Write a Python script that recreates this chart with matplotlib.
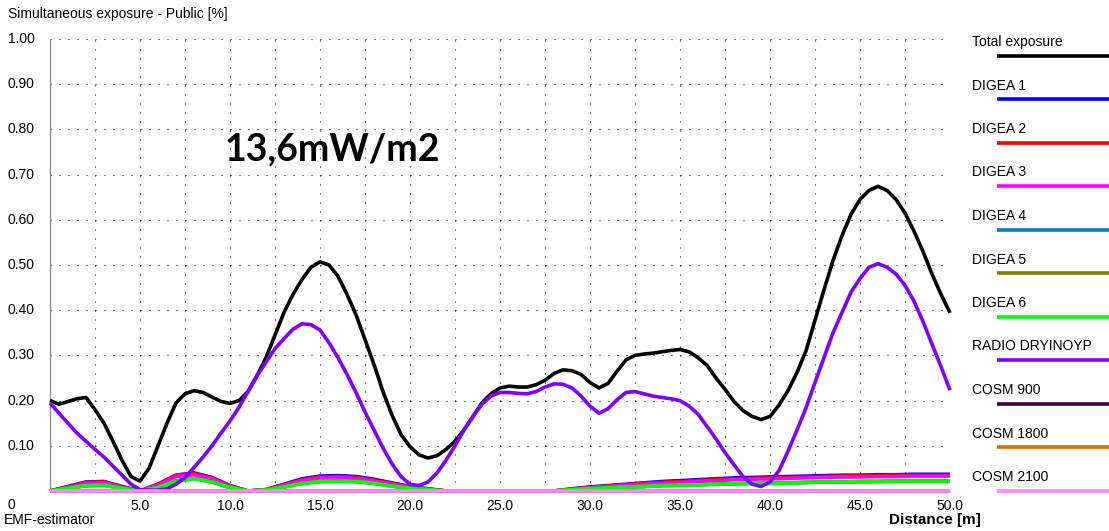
import numpy as np
import matplotlib
matplotlib.use("Agg")
import matplotlib.pyplot as plt

plt.rcParams['font.family'] = ['Liberation Sans', 'DejaVu Sans']

# distance [m] for the two main curves (0.5 m step) and for the small ones (1 m step)
dist_fine = np.arange(0, 50.01, 0.5)
dist_coarse = np.arange(0, 51, 1.0)

total_exposure = [
    0.200, 0.192, 0.198, 0.204, 0.207, 0.180, 0.150, 0.110, 0.068, 0.032,
    0.022, 0.050, 0.100, 0.150, 0.195, 0.215, 0.222, 0.218, 0.208, 0.198,
    0.194, 0.200, 0.220, 0.255, 0.295, 0.345, 0.395, 0.435, 0.468, 0.495,
    0.507, 0.500, 0.475, 0.435, 0.390, 0.335, 0.280, 0.220, 0.168, 0.125,
    0.098, 0.080, 0.073, 0.078, 0.092, 0.110, 0.135, 0.165, 0.195, 0.215,
    0.228, 0.232, 0.230, 0.230, 0.235, 0.245, 0.260, 0.268, 0.266, 0.258,
    0.240, 0.228, 0.238, 0.265, 0.290, 0.300, 0.303, 0.305, 0.308, 0.311,
    0.313, 0.308, 0.295, 0.278, 0.250, 0.225, 0.198, 0.178, 0.165, 0.158,
    0.165, 0.190, 0.222, 0.262, 0.310, 0.378, 0.445, 0.510, 0.565, 0.612,
    0.645, 0.665, 0.674, 0.665, 0.645, 0.615, 0.575, 0.530, 0.480, 0.435,
    0.394,
]

radio_dryinoyp = [
    0.195, 0.172, 0.150, 0.128, 0.110, 0.092, 0.075, 0.055, 0.035, 0.015,
    0.003, 0.002, 0.002, 0.005, 0.015, 0.030, 0.052, 0.075, 0.100, 0.128,
    0.155, 0.185, 0.220, 0.255, 0.285, 0.315, 0.337, 0.358, 0.370, 0.368,
    0.356, 0.328, 0.295, 0.258, 0.218, 0.175, 0.135, 0.095, 0.060, 0.032,
    0.015, 0.012, 0.020, 0.040, 0.068, 0.100, 0.135, 0.165, 0.192, 0.210,
    0.218, 0.218, 0.216, 0.215, 0.220, 0.230, 0.237, 0.236, 0.228, 0.210,
    0.188, 0.172, 0.182, 0.202, 0.218, 0.220, 0.215, 0.210, 0.207, 0.204,
    0.200, 0.188, 0.170, 0.143, 0.115, 0.085, 0.058, 0.032, 0.015, 0.010,
    0.020, 0.045, 0.088, 0.135, 0.184, 0.240, 0.295, 0.350, 0.395, 0.440,
    0.470, 0.495, 0.503, 0.495, 0.480, 0.455, 0.420, 0.375, 0.325, 0.275,
    0.223,
]

digea_1 = [
    0.000, 0.010, 0.020, 0.021, 0.010, 0.000, 0.015, 0.035, 0.040, 0.030,
    0.012, 0.000, 0.003, 0.015, 0.027, 0.033, 0.034, 0.032, 0.026, 0.018,
    0.010, 0.005, 0.000, 0.000, 0.000, 0.000, 0.000, 0.000, 0.000, 0.005,
    0.009, 0.012, 0.015, 0.018, 0.021, 0.023, 0.025, 0.027, 0.029, 0.030,
    0.031, 0.032, 0.033, 0.034, 0.035, 0.035, 0.036, 0.036, 0.037, 0.037,
    0.037,
]
digea_2 = [
    0.000, 0.009, 0.019, 0.020, 0.009, 0.000, 0.015, 0.035, 0.039, 0.029,
    0.011, 0.000, 0.003, 0.014, 0.025, 0.031, 0.032, 0.030, 0.024, 0.017,
    0.009, 0.004, 0.000, 0.000, 0.000, 0.000, 0.000, 0.000, 0.000, 0.004,
    0.008, 0.011, 0.014, 0.017, 0.019, 0.021, 0.023, 0.025, 0.027, 0.028,
    0.029, 0.030, 0.031, 0.032, 0.033, 0.034, 0.034, 0.035, 0.035, 0.035,
    0.035,
]
digea_3 = [
    0.000, 0.008, 0.017, 0.018, 0.008, 0.000, 0.013, 0.032, 0.036, 0.027,
    0.010, 0.000, 0.002, 0.013, 0.023, 0.029, 0.030, 0.028, 0.022, 0.015,
    0.008, 0.004, 0.000, 0.000, 0.000, 0.000, 0.000, 0.000, 0.000, 0.004,
    0.007, 0.010, 0.013, 0.015, 0.017, 0.019, 0.021, 0.023, 0.025, 0.026,
    0.027, 0.028, 0.029, 0.030, 0.031, 0.031, 0.032, 0.032, 0.033, 0.033,
    0.033,
]
digea_6 = [
    0.000, 0.006, 0.012, 0.013, 0.006, 0.000, 0.008, 0.022, 0.028, 0.020,
    0.008, 0.000, 0.002, 0.009, 0.017, 0.021, 0.022, 0.021, 0.017, 0.011,
    0.006, 0.003, 0.000, 0.000, 0.000, 0.000, 0.000, 0.000, 0.000, 0.003,
    0.005, 0.007, 0.009, 0.010, 0.012, 0.013, 0.014, 0.015, 0.016, 0.017,
    0.017, 0.018, 0.019, 0.020, 0.020, 0.021, 0.021, 0.022, 0.022, 0.022,
    0.022,
]
# DIGEA 4 and 5 run just under DIGEA 6, COSM carriers stay at zero
digea_4 = digea_6
digea_5 = digea_6
cosm_900 = [0.0] * 51
cosm_1800 = [0.0] * 51
cosm_2100 = [0.0] * 51

series = [
    ("Total exposure", dist_fine, total_exposure, "#000000"),
    ("DIGEA 1", dist_coarse, digea_1, "#0000ff"),
    ("DIGEA 2", dist_coarse, digea_2, "#ff0000"),
    ("DIGEA 3", dist_coarse, digea_3, "#ff00ff"),
    ("DIGEA 4", dist_coarse, digea_4, "#0080c0"),
    ("DIGEA 5", dist_coarse, digea_5, "#808000"),
    ("DIGEA 6", dist_coarse, digea_6, "#00ff00"),
    ("RADIO DRYINOYP", dist_fine, radio_dryinoyp, "#8000ff"),
    ("COSM 900", dist_coarse, cosm_900, "#400040"),
    ("COSM 1800", dist_coarse, cosm_1800, "#d96b00"),
    ("COSM 2100", dist_coarse, cosm_2100, "#ff88ff"),
]

W, H = 1109, 531
FS = 10
fig = plt.figure(figsize=(W / 100, H / 100), dpi=100)
ax = fig.add_axes([50 / W, (H - 491) / H, 900 / W, 452 / H])

for name, x, y, c in series:
    ax.plot(x, y, color=c, lw=2.6, solid_capstyle='butt', clip_on=False, zorder=3)

ax.set_xlim(0, 50)
ax.set_ylim(0, 1.0)
ax.set_xticks(np.arange(5, 50.1, 5))
ax.set_xticklabels(["%.1f" % v for v in np.arange(5, 50.1, 5)])
ax.set_yticks([])
ax.tick_params(which='both', length=0, labelsize=FS, pad=6)

# dotted grid, one dark pixel every 9 px
for gx in np.arange(2.5, 50.1, 2.5):
    ax.axvline(gx, color='#000000', lw=0.8, dashes=(0.9, 7.2), zorder=0)
for gy in np.arange(0.1, 1.01, 0.1):
    ax.axhline(gy, color='#000000', lw=0.8, dashes=(0.9, 7.2), zorder=0)

for s in ['top', 'right']:
    ax.spines[s].set_visible(False)
ax.spines['left'].set_color('#808080')
ax.spines['bottom'].set_color('#808080')

# y labels sit left-aligned at the figure edge
for gy in np.arange(0.1, 1.01, 0.1):
    fig.text(8 / W, (H - (491 - gy * 452)) / H, "%.2f" % gy, fontsize=FS,
             ha='left', va='center')
fig.text(8 / W, (H - 505) / H, "0", fontsize=FS, ha='left', va='center')

fig.text(8 / W, (H - 14) / H, "Simultaneous exposure - Public [%]", fontsize=FS,
         ha='left', va='center')
fig.text(4 / W, (H - 520) / H, "EMF-estimator", fontsize=FS, ha='left', va='center')
fig.text(981 / W, (H - 520) / H, "Distance [m]", fontsize=11, fontweight='bold',
         ha='right', va='center')

ax.text(9.72, 0.732, "13,6mW/m2", fontsize=27, fontweight='bold', family='Lato',
        ha='left', va='baseline')

# legend column on the right
leg = fig.add_axes([955 / W, 0, (W - 955) / W, 1])
leg.set_xlim(955, W)
leg.set_ylim(H, 0)
leg.axis('off')
for i, (name, x, y, c) in enumerate(series):
    ty = 42 + i * 43.5
    leg.text(972, ty, name, fontsize=FS, ha='left', va='center')
    leg.plot([997, W], [ty + 13.5, ty + 13.5], color=c, lw=2.6, solid_capstyle='butt',
             clip_on=False)

fig.savefig("out.png", dpi=100)
